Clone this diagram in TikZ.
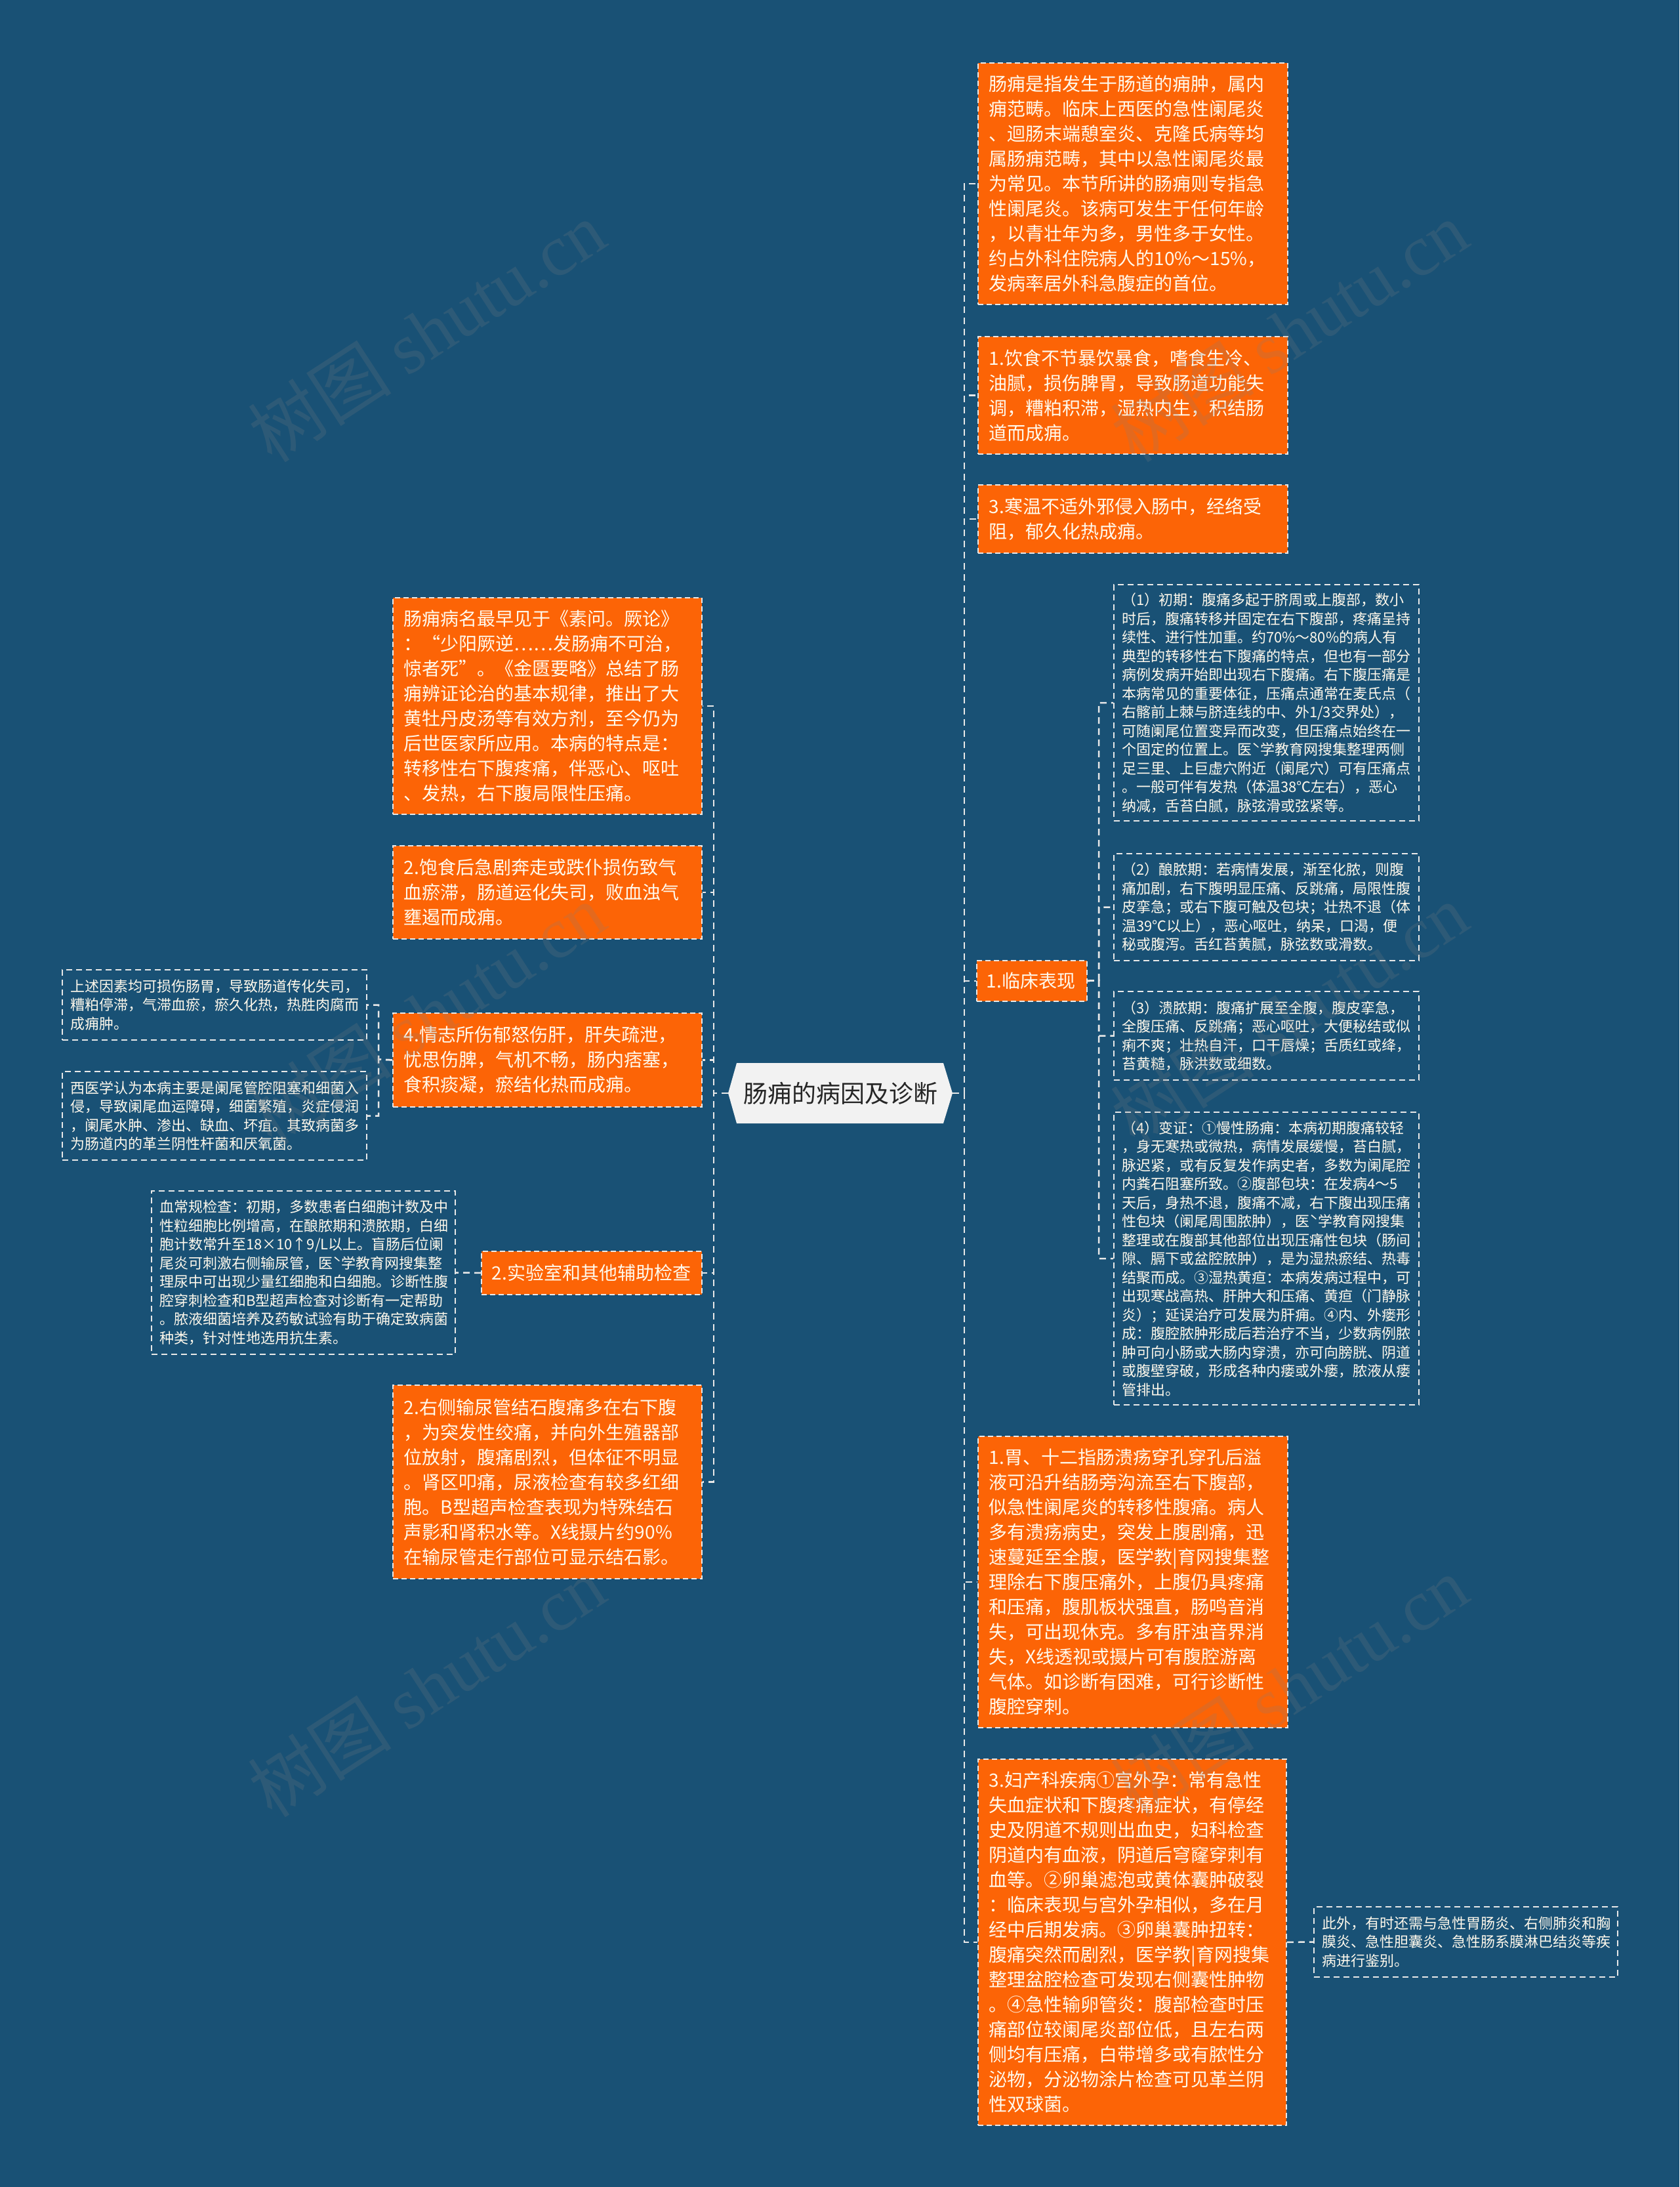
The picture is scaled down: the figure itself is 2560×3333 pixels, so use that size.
\documentclass[tikz,border=0pt]{standalone}
\usepackage{fontspec}
\setmainfont{Noto Sans CJK SC}
\newfontfamily\cjkwm{Noto Sans CJK SC}
\newfontfamily\latwm{Liberation Serif}
\definecolor{bgblue}{RGB}{25,81,117}
\definecolor{boxorange}{RGB}{252,100,6}
\definecolor{txtcream}{RGB}{255,249,236}
\definecolor{rootfill}{RGB}{242,242,242}
\definecolor{roottext}{RGB}{38,38,38}
\definecolor{dashgray}{RGB}{232,232,232}
\definecolor{wmgray}{RGB}{128,128,128}
\begin{document}
\begin{tikzpicture}[x=1pt,y=-1pt,
  conn/.style={draw=dashgray, line width=2.5pt, dash pattern=on 10pt off 7pt},
  obox/.style={fill=boxorange, draw=dashgray, line width=1.8pt, dash pattern=on 8pt off 5pt,
    text=txtcream, align=left, anchor=north west, inner xsep=17pt, inner ysep=0pt,
    font=\fontsize{28pt}{38pt}\selectfont},
  sbox/.style={draw=dashgray, line width=2pt, dash pattern=on 9pt off 6pt,
    text=txtcream, align=left, anchor=north west, inner xsep=12pt, inner ysep=0pt,
    font=\fontsize{22pt}{28.5pt}\selectfont},
  wmark/.style={rotate=33, text=wmgray, opacity=0.2, inner sep=0pt,
    font=\fontsize{110pt}{110pt}\selectfont}
]
\useasboundingbox (0,0) rectangle (2560,3333);
\fill[bgblue] (0,0) rectangle (2560,3333);

% root
\fill[rootfill] (1110,1666) -- (1123,1620) -- (1438,1620) -- (1452,1666) -- (1438,1712) -- (1123,1712) -- cycle;
\node[font=\fontsize{37pt}{40pt}\selectfont, text=roottext, minimum width=342pt, minimum height=92pt, inner sep=0pt] (root) at (1281,1666) {肠痈的病因及诊断};

% right side
\node[obox, text width=438pt, minimum height=368pt] (A) at (1490,95) {肠痈是指发生于肠道的痈肿，属内\\痈范畴。临床上西医的急性阑尾炎\\、迴肠末端憩室炎、克隆氏病等均\\属肠痈范畴，其中以急性阑尾炎最\\为常见。本节所讲的肠痈则专指急\\性阑尾炎。该病可发生于任何年龄\\，以青壮年为多，男性多于女性。\\约占外科住院病人的10\%～15\%，\\发病率居外科急腹症的首位。};
\node[obox, text width=438pt, minimum height=179pt] (B) at (1490,512) {1.饮食不节暴饮暴食，嗜食生冷、\\油腻，损伤脾胃，导致肠道功能失\\调，糟粕积滞，湿热内生，积结肠\\道而成痈。};
\node[obox, text width=438pt, minimum height=104pt] (C) at (1490,738) {3.寒温不适外邪侵入肠中，经络受\\阻，郁久化热成痈。};
\node[obox, inner xsep=15pt, text width=138pt, minimum height=62pt] (D) at (1488,1463) {1.临床表现};
\node[obox, text width=438pt, minimum height=444pt] (E) at (1490,2188) {1.胃、十二指肠溃疡穿孔穿孔后溢\\液可沿升结肠旁沟流至右下腹部，\\似急性阑尾炎的转移性腹痛。病人\\多有溃疡病史，突发上腹剧痛，迅\\速蔓延至全腹，医学教|育网搜集整\\理除右下腹压痛外，上腹仍具疼痛\\和压痛，腹肌板状强直，肠鸣音消\\失，可出现休克。多有肝浊音界消\\失，X线透视或摄片可有腹腔游离\\气体。如诊断有困难，可行诊断性\\腹腔穿刺。};
\node[obox, text width=436pt, minimum height=558pt] (F) at (1490,2680) {3.妇产科疾病①宫外孕：常有急性\\失血症状和下腹疼痛症状，有停经\\史及阴道不规则出血史，妇科检查\\阴道内有血液，阴道后穹窿穿刺有\\血等。②卵巢滤泡或黄体囊肿破裂\\：临床表现与宫外孕相似，多在月\\经中后期发病。③卵巢囊肿扭转：\\腹痛突然而剧烈，医学教|育网搜集\\整理盆腔检查可发现右侧囊性肿物\\。④急性输卵管炎：腹部检查时压\\痛部位较阑尾炎部位低，且左右两\\侧均有压痛，白带增多或有脓性分\\泌物，分泌物涂片检查可见革兰阴\\性双球菌。};
\node[sbox, text width=439pt, minimum height=107pt] (G) at (2002,2905) {此外，有时还需与急性胃肠炎、右侧肺炎和胸\\膜炎、急性胆囊炎、急性肠系膜淋巴结炎等疾\\病进行鉴别。};

% clinical children
\node[sbox, text width=441pt, minimum height=360pt] (D1) at (1697,890) {（1）初期：腹痛多起于脐周或上腹部，数小\\时后，腹痛转移并固定在右下腹部，疼痛呈持\\续性、进行性加重。约70\%～80\%的病人有\\典型的转移性右下腹痛的特点，但也有一部分\\病例发病开始即出现右下腹痛。右下腹压痛是\\本病常见的重要体征，压痛点通常在麦氏点（\\右髂前上棘与脐连线的中、外1/3交界处），\\可随阑尾位置变异而改变，但压痛点始终在一\\个固定的位置上。医ˋ学教育网搜集整理两侧\\足三里、上巨虚穴附近（阑尾穴）可有压痛点\\。一般可伴有发热（体温38℃左右），恶心\\纳减，舌苔白腻，脉弦滑或弦紧等。};
\node[sbox, text width=441pt, minimum height=163pt] (D2) at (1697,1300) {（2）酿脓期：若病情发展，渐至化脓，则腹\\痛加剧，右下腹明显压痛、反跳痛，局限性腹\\皮挛急；或右下腹可触及包块；壮热不退（体\\温39℃以上），恶心呕吐，纳呆，口渴，便\\秘或腹泻。舌红苔黄腻，脉弦数或滑数。};
\node[sbox, text width=441pt, minimum height=135pt] (D3) at (1697,1510) {（3）溃脓期：腹痛扩展至全腹，腹皮挛急，\\全腹压痛、反跳痛；恶心呕吐，大便秘结或似\\痢不爽；壮热自汗，口干唇燥；舌质红或绛，\\苔黄糙，脉洪数或细数。};
\node[sbox, text width=441pt, minimum height=446pt] (D4) at (1697,1694) {（4）变证：①慢性肠痈：本病初期腹痛较轻\\，身无寒热或微热，病情发展缓慢，苔白腻，\\脉迟紧，或有反复发作病史者，多数为阑尾腔\\内粪石阻塞所致。②腹部包块：在发病4～5\\天后，身热不退，腹痛不减，右下腹出现压痛\\性包块（阑尾周围脓肿），医ˋ学教育网搜集\\整理或在腹部其他部位出现压痛性包块（肠间\\隙、膈下或盆腔脓肿），是为湿热瘀结、热毒\\结聚而成。③湿热黄疸：本病发病过程中，可\\出现寒战高热、肝肿大和压痛、黄疸（门静脉\\炎）；延误治疗可发展为肝痈。④内、外瘘形\\成：腹腔脓肿形成后若治疗不当，少数病例脓\\肿可向小肠或大肠内穿溃，亦可向膀胱、阴道\\或腹壁穿破，形成各种内瘘或外瘘，脓液从瘘\\管排出。};

% left side
\node[obox, text width=437pt, minimum height=330pt] (L1) at (598,910) {肠痈病名最早见于《素问。厥论》\\：“少阳厥逆……发肠痈不可治，\\惊者死”。《金匮要略》总结了肠\\痈辨证论治的基本规律，推出了大\\黄牡丹皮汤等有效方剂，至今仍为\\后世医家所应用。本病的特点是：\\转移性右下腹疼痛，伴恶心、呕吐\\、发热，右下腹局限性压痛。};
\node[obox, text width=437pt, minimum height=142pt] (L2) at (598,1288) {2.饱食后急剧奔走或跌仆损伤致气\\血瘀滞，肠道运化失司，败血浊气\\壅遏而成痈。};
\node[obox, text width=437pt, minimum height=143pt] (L3) at (598,1543) {4.情志所伤郁怒伤肝，肝失疏泄，\\忧思伤脾，气机不畅，肠内痞塞，\\食积痰凝，瘀结化热而成痈。};
\node[obox, inner xsep=16pt, text width=304pt, minimum height=66pt] (L4) at (733,1906) {2.实验室和其他辅助检查};
\node[obox, text width=437pt, minimum height=295pt] (L5) at (598,2110) {2.右侧输尿管结石腹痛多在右下腹\\，为突发性绞痛，并向外生殖器部\\位放射，腹痛剧烈，但体征不明显\\。肾区叩痛，尿液检查有较多红细\\胞。B型超声检查表现为特殊结石\\声影和肾积水等。X线摄片约90\%\\在输尿管走行部位可显示结石影。};

\node[sbox, text width=440pt, minimum height=107pt] (S1) at (94,1477) {上述因素均可损伤肠胃，导致肠道传化失司，\\糟粕停滞，气滞血瘀，瘀久化热，热胜肉腐而\\成痈肿。};
\node[sbox, text width=440pt, minimum height=135pt] (S2) at (94,1632) {西医学认为本病主要是阑尾管腔阻塞和细菌入\\侵，导致阑尾血运障碍，细菌繁殖，炎症侵润\\，阑尾水肿、渗出、缺血、坏疽。其致病菌多\\为肠道内的革兰阴性杆菌和厌氧菌。};
\node[sbox, text width=439pt, minimum height=249pt] (lab) at (230,1814) {血常规检查：初期，多数患者白细胞计数及中\\性粒细胞比例增高，在酿脓期和溃脓期，白细\\胞计数常升至18×10↑9/L以上。盲肠后位阑\\尾炎可刺激右侧输尿管，医ˋ学教育网搜集整\\理尿中可出现少量红细胞和白细胞。诊断性腹\\腔穿刺检查和B型超声检查对诊断有一定帮助\\。脓液细菌培养及药敏试验有助于确定致病菌\\种类，针对性地选用抗生素。};

% connectors
\coordinate (rj) at (1470,1666);
\coordinate (lj) at (1088,1666);
\coordinate (dj) at (1675,1494);
\coordinate (l3j) at (577,1614.5);
\foreach \n in {A,B,C,D,E,F} \draw[conn] (root.east) -- (rj) |- (\n.west);
\foreach \n in {L1,L2,L3,L4,L5} \draw[conn] (root.west) -- (lj) |- (\n.east);
\foreach \n in {D1,D2,D3,D4} \draw[conn] (D.east) -- (dj) |- (\n.west);
\foreach \n in {S1,S2} \draw[conn] (L3.west) -- (l3j) |- (\n.east);
\draw[conn] (L4.west) -- (lab.east);
\draw[conn] (F.east) -- (G.west);

% watermarks
\node[wmark] (wm1) at (650,505) {\cjkwm 树图 \latwm shutu.cn};
\node[wmark] (wm2) at (1965,505) {\cjkwm 树图 \latwm shutu.cn};
\node[wmark] (wm3) at (650,1545) {\cjkwm 树图 \latwm shutu.cn};
\node[wmark] (wm4) at (1965,1545) {\cjkwm 树图 \latwm shutu.cn};
\node[wmark] (wm5) at (650,2570) {\cjkwm 树图 \latwm shutu.cn};
\node[wmark] (wm6) at (1965,2570) {\cjkwm 树图 \latwm shutu.cn};
\end{tikzpicture}
\end{document}
